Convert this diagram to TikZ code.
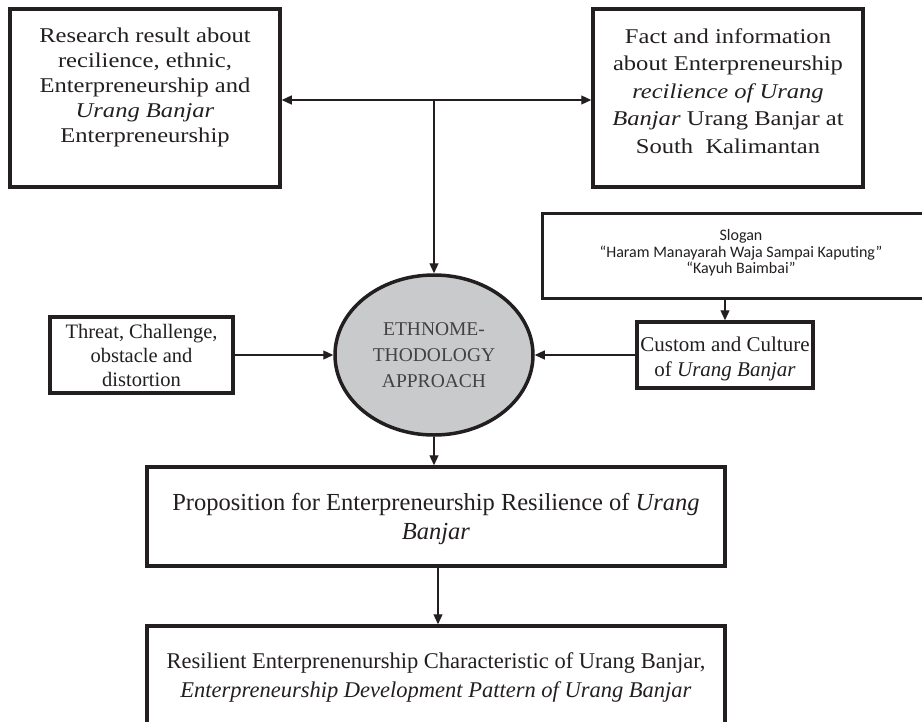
\documentclass[tikz,border=0pt]{standalone}
\usepackage{fontspec}
\setmainfont{Liberation Serif}
\newfontfamily\wideser{Liberation Serif}[FakeStretch=1.17]
\newfontfamily\slfnt{Carlito}
\usetikzlibrary{arrows.meta,shapes.geometric}
\definecolor{ink}{HTML}{231F20}
\definecolor{ovalgray}{HTML}{C9CACC}
\newcommand{\bxcontent}[5]{\parbox[c][#2pt][t]{#1pt}{\vspace*{#3pt}\centering #4\strut #5\par}}
\begin{document}
\begin{tikzpicture}[x=1pt,y=-1pt,
  boxed/.style={draw=ink,line width=3.5pt,inner sep=0pt,fill=white},
  arr/.style={draw=ink,line width=1.2pt,-{Triangle[length=10pt,width=9pt]}},
  txt/.style={text=ink}]
\useasboundingbox (0,0) rectangle (922,721);

\node[boxed,txt] (A) at (145,98)
  {\bxcontent{270}{178}{16}{\wideser\fontsize{21}{25}\selectfont}{Research result about\\ recilience, ethnic,\\ Enterpreneurship and\\ \textit{Urang Banjar}\\ Enterpreneurship}};

\node[boxed,txt] (B) at (728,98)
  {\bxcontent{270}{178}{15}{\wideser\fontsize{21}{27.5}\selectfont}{Fact and information\\ about Enterpreneurship\\ \textit{recilience of Urang}\\ \textit{Banjar} Urang Banjar at\\ South~~Kalimantan}};

\node[boxed,txt,line width=3pt] (S) at (741,255.5)
  {\bxcontent{398}{85}{16}{\slfnt\fontsize{16}{16.5}\selectfont}{Slogan\\ “Haram Manayarah Waja Sampai Kaputing”\\ “Kayuh Baimbai”}};

\node[boxed,txt] (T) at (141.5,355)
  {\bxcontent{183}{76}{5}{\fontsize{20.5}{24}\selectfont}{Threat, Challenge,\\ obstacle and\\ distortion}};

\node[boxed,txt] (C) at (725,355)
  {\bxcontent{176}{66}{11.5}{\fontsize{21}{25}\selectfont}{Custom and Culture\\ of \textit{Urang Banjar}}};

\node[draw=ink,line width=3.5pt,fill=ovalgray,ellipse,minimum width=198pt,minimum height=160pt,inner sep=0pt,
  align=center,text=ink!85,font=\fontsize{19.5}{26}\selectfont] (E) at (434,355)
  {ETHNOME-\\ THODOLOGY\\ APPROACH};

\node[boxed,txt] (P) at (436,516.5)
  {\bxcontent{578}{99}{22.7}{\fontsize{24.5}{29}\selectfont}{Proposition for Enterpreneurship Resilience of \textit{Urang}\\ \textit{Banjar}}};

\node[boxed,txt] (R) at (436,703)
  {\bxcontent{578}{154}{21.7}{\fontsize{22.5}{29}\selectfont}{Resilient Enterprenenurship Characteristic of Urang Banjar,\\ \textit{Enterpreneurship Development Pattern of Urang Banjar}}};

\coordinate (j) at (434,100);
\draw[arr] (j) -- (j -| A.east);
\draw[arr] (j) -- (j -| B.west);
\draw[arr] (j) -- (E.north);
\draw[arr] (T.east) -- (E.west);
\draw[arr] (C.west) -- (E.east);
\draw[arr] (C.north |- S.south) -- (C.north);
\draw[arr] (E.south) -- (E.south |- P.north);
\draw[arr] (P.south -| 438,0) -- (R.north -| 438,0);
\end{tikzpicture}
\end{document}
